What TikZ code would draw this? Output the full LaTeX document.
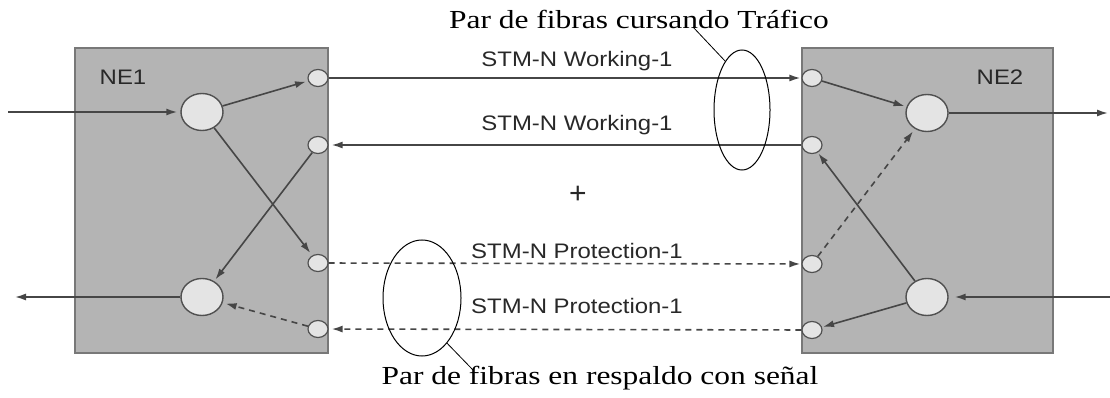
\documentclass[tikz,border=0pt]{standalone}
\usepackage{fontspec}
\setmainfont{Liberation Serif}
\newfontfamily\arialf{Liberation Sans}
\usetikzlibrary{shapes.geometric,arrows.meta}
\definecolor{boxfill}{RGB}{180,180,180}
\definecolor{boxline}{RGB}{120,120,120}
\definecolor{circfill}{RGB}{228,228,228}
\definecolor{circline}{RGB}{80,80,80}
\definecolor{linec}{RGB}{70,70,70}
\definecolor{txtc}{RGB}{40,40,40}
\tikzset{
  nebox/.style={draw=boxline, fill=boxfill, line width=2.2pt},
  bigc/.style={ellipse, draw=circline, fill=circfill, line width=1.4pt, minimum width=42pt, minimum height=37pt, inner sep=0pt},
  smallc/.style={ellipse, draw=circline, fill=circfill, line width=1.2pt, minimum width=20pt, minimum height=17pt, inner sep=0pt},
  conn/.style={draw=linec, line width=1.6pt, -{Latex[length=11pt,width=7pt]}},
  dconn/.style={conn, dash pattern=on 6pt off 5pt},
  sanslbl/.style={text=txtc, font=\arialf\fontsize{21}{24}\selectfont, inner sep=0pt},
  seriflbl/.style={text=black, font=\fontsize{26}{30}\selectfont, inner sep=0pt},
  loop/.style={ellipse, draw=black, line width=1pt, inner sep=0pt},
}
\begin{document}
\begin{tikzpicture}[x=1pt,y=-1pt]
\useasboundingbox (0,0) rectangle (1110,398);
% boxes
\node[nebox, minimum width=253pt, minimum height=305pt, inner sep=0pt] (ne1) at (201.5,200.5) {};
\node[nebox, minimum width=251pt, minimum height=305pt, inner sep=0pt] (ne2) at (927.5,200.5) {};
\node[sanslbl] (ne1l) at (123,77) {\scalebox{1.14}[1]{NE1}};
\node[sanslbl] (ne2l) at (1000,77) {\scalebox{1.14}[1]{NE2}};
% NE1 circles
\node[bigc] (a1) at (202,112) {};
\node[bigc] (a2) at (202,297) {};
\node[smallc] (s1) at (318,78) {};
\node[smallc] (s2) at (318,145) {};
\node[smallc] (s3) at (318,263) {};
\node[smallc] (s4) at (318,329) {};
% NE2 circles
\node[bigc] (b1) at (927,113) {};
\node[bigc] (b2) at (927,297) {};
\node[smallc] (t1) at (812,78) {};
\node[smallc] (t2) at (812,145) {};
\node[smallc] (t3) at (812,264) {};
\node[smallc] (t4) at (812,330) {};
% outside ends
\coordinate (in1) at (8,112);
\coordinate (out1) at (15,297);
\coordinate (out2) at (1108,113);
\coordinate (in2) at (1110,297);
% external connectors
\draw[conn, shorten >=3pt] (in1) -- (a1);
\draw[conn] (a2) -- (out1);
\draw[conn] (b1) -- (out2);
\draw[conn, shorten >=6pt] (in2) -- (b2);
% NE1 internal
\draw[conn, shorten >=2pt] (a1) -- (s1);
\draw[conn, shorten >=3pt] (a1) -- (s3);
\draw[conn, shorten >=2pt] (s2) -- (a2);
\draw[dconn, shorten >=3pt] (s4) -- (a2);
% NE2 internal
\draw[conn, shorten >=2pt] (t1) -- (b1);
\draw[dconn, shorten >=3pt] (t3) -- (b1);
\draw[conn, shorten >=1pt] (b2) -- (t2);
\draw[conn, shorten >=1pt] (b2) -- (t4);
% links
\draw[conn, shorten >=1pt] (s1) -- (t1);
\draw[conn, shorten >=3pt] (t2) -- (s2);
\draw[dconn, shorten >=1pt] (s3) -- (t3);
\draw[dconn, shorten >=3pt] (t4) -- (s4);
% labels
\node[sanslbl] (w1) at (577,61) {\scalebox{1.14}[1]{STM-N Working-1}};
\node[sanslbl] (w2) at (577,125) {\scalebox{1.14}[1]{STM-N Working-1}};
\node[sanslbl, font=\arialf\fontsize{30}{32}\selectfont] (plus) at (578,195) {+};
\node[sanslbl] (p1) at (577,251) {\scalebox{1.14}[1]{STM-N Protection-1}};
\node[sanslbl] (p2) at (577,306) {\scalebox{1.14}[1]{STM-N Protection-1}};
% grouping loops
\node[loop, minimum width=56pt, minimum height=120pt] (e1) at (742,110) {};
\node[loop, minimum width=78pt, minimum height=116pt] (e2) at (422,298) {};
\node[seriflbl] (c1) at (639,19) {\scalebox{1.21}[1]{Par de fibras cursando Tráfico}};
\node[seriflbl] (c2) at (600,378) {\scalebox{1.21}[1]{Par de fibras en respaldo con señal}};
\coordinate (l1) at (693,27);
\coordinate (l2) at (473,370);
\draw[line width=0.8pt] (e1.109) -- (l1);
\draw[line width=0.8pt] (e2.-61) -- (l2);
\end{tikzpicture}
\end{document}
